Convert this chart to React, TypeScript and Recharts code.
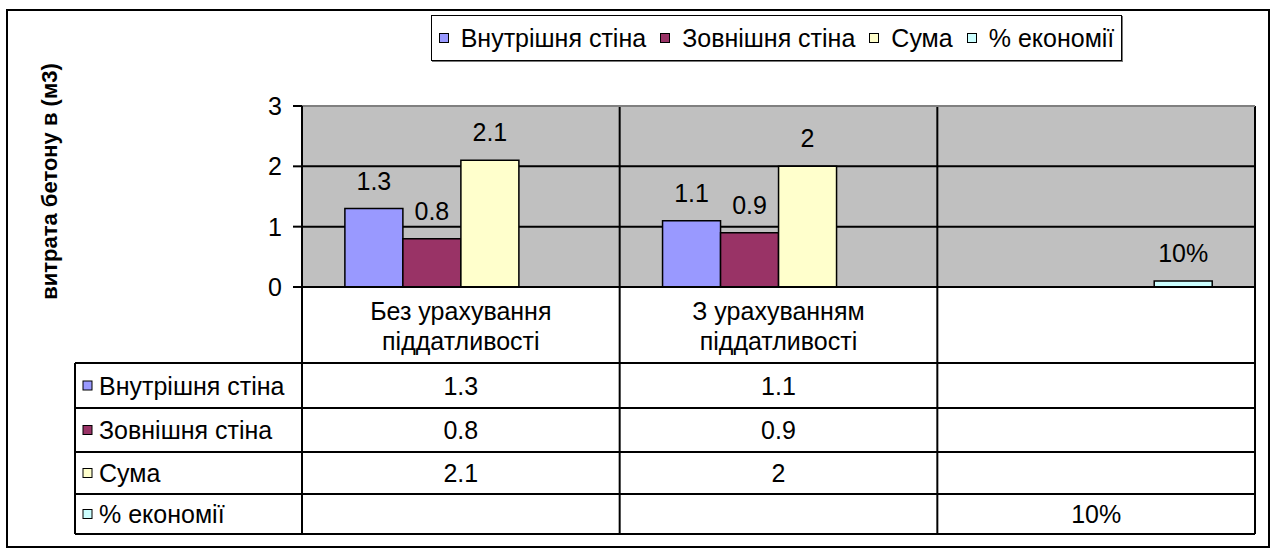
import React from "react";
import {
  BarChart,
  Bar,
  XAxis,
  YAxis,
  CartesianGrid,
  LabelList,
  Legend,
  ReferenceLine,
} from "recharts";

// categories (the third one has no name, only the % bar)
const categoryLines: string[][] = [
  ["Без урахування", "піддатливості"],
  ["З урахуванням", "піддатливості"],
  [],
];
const seriesNames = ["Внутрішня стіна", "Зовнішня стіна", "Сума", "% економії"];
const innerWall = [1.3, 1.1, null];
const outerWall = [0.8, 0.9, null];
const total = [2.1, 2, null];
const savings = [null, null, 0.1];
const yTicks = [0, 1, 2, 3];

const seriesKeys = ["inner", "outer", "total", "savings"];
const seriesValues = [innerWall, outerWall, total, savings];
const colors = ["#9999FF", "#993366", "#FFFFCC", "#CCFFFF"];

const data = categoryLines.map((_, i) => {
  const row: Record<string, any> = { cat: String(i) };
  seriesKeys.forEach((k, s) => (row[k] = seriesValues[s][i]));
  return row;
});

const fmt = (key: string, v: any) => {
  if (v === null || v === undefined || v === "") return "";
  if (key === "savings") return `${Math.round(Number(v) * 100)}%`;
  return String(v);
};

const FONT = "'Liberation Sans', Arial, sans-serif";
const FS = 25;

const W = 1274;
const H = 549;
const plotLeft = 302;
const plotRight = 1255;
const plotTop = 106;
const plotBottom = 287;
const headerH = 76;
const rowHeights = [45, 44, 42, 40];
const tableLeft = 75;

function CategoryTick(props: any) {
  const { x, y, payload } = props;
  const lines = categoryLines[Number(payload.value)] || [];
  return (
    <g>
      {lines.map((l, i) => (
        <text
          key={i}
          x={x}
          y={y + 33 + i * 30}
          textAnchor="middle"
          fontSize={FS}
          fontFamily={FONT}
          fill="#000"
        >
          {l}
        </text>
      ))}
    </g>
  );
}

function LegendBox() {
  return (
    <div
      style={{
        boxSizing: "border-box",
        width: 691,
        height: 46,
        border: "1.5px solid #000",
        boxShadow: "1px 1px 0 #777",
        background: "#fff",
        display: "flex",
        alignItems: "center",
        justifyContent: "center",
        fontFamily: FONT,
        fontSize: FS,
        whiteSpace: "nowrap",
      }}
    >
      {seriesNames.map((n, i) => (
        <span key={n} style={{ display: "flex", alignItems: "center", marginRight: i < 3 ? 14 : 0 }}>
          <span
            style={{
              display: "inline-block",
              width: 8,
              height: 8,
              border: "1px solid #000",
              background: colors[i],
              marginRight: 12,
            }}
          />
          {n}
        </span>
      ))}
    </div>
  );
}

function DataTable() {
  const colW = (plotRight - plotLeft) / categoryLines.length;
  const colEdges = [0, 1, 2, 3].map((i) => plotLeft + i * colW);
  const rowTops: number[] = [plotBottom + headerH];
  rowHeights.forEach((h, i) => rowTops.push(rowTops[i] + h));
  const tableBottom = rowTops[rowTops.length - 1];
  return (
    <svg
      width={W}
      height={H}
      style={{ position: "absolute", left: 0, top: 0, pointerEvents: "none" }}
    >
      <rect x={7} y={10} width={1262} height={537} fill="none" stroke="#000" strokeWidth={2} />
      {colEdges.map((x, i) => (
        <line key={"v" + i} x1={x} x2={x} y1={plotBottom} y2={tableBottom} stroke="#000" strokeWidth={2} />
      ))}
      <line x1={tableLeft} x2={tableLeft} y1={rowTops[0]} y2={tableBottom} stroke="#000" strokeWidth={2} />
      {rowTops.map((y, i) => (
        <line key={"h" + i} x1={tableLeft} x2={plotRight} y1={y} y2={y} stroke="#000" strokeWidth={2} />
      ))}
      {seriesNames.map((n, s) => {
        const cy = rowTops[s] + rowHeights[s] / 2;
        return (
          <g key={n} fontFamily={FONT} fontSize={FS} fill="#000">
            <rect x={tableLeft + 8} y={cy - 4.5} width={9} height={9} fill={colors[s]} stroke="#000" />
            <text x={tableLeft + 24} y={cy + 9}>
              {n}
            </text>
            {seriesValues[s].map((v, c) => (
              <text key={c} x={colEdges[c] + colW / 2} y={cy + 9} textAnchor="middle">
                {fmt(seriesKeys[s], v)}
              </text>
            ))}
          </g>
        );
      })}
    </svg>
  );
}

export default function App() {
  return (
    <div style={{ position: "absolute", left: 0, top: 0, width: W, height: H, background: "#fff" }}>
      <BarChart
        width={W}
        height={H}
        data={data}
        margin={{ top: plotTop, right: W - plotRight, bottom: H - plotBottom - headerH, left: 6 }}
        barCategoryGap="13.5%"
        barGap={0}
      >
        <CartesianGrid
          fill="#C0C0C0"
          fillOpacity={1}
          stroke="#000"
          strokeWidth={2}
          verticalCoordinatesGenerator={({ offset }: any) =>
            categoryLines.map((_, i) => offset.left + (offset.width * (i + 1)) / categoryLines.length)
          }
        />
        <ReferenceLine y={3} stroke="#808080" strokeWidth={2} />
        <XAxis
          dataKey="cat"
          axisLine={{ stroke: "#000", strokeWidth: 2 }}
          tickLine={false}
          tickSize={0}
          tickMargin={0}
          height={headerH}
          interval={0}
          tick={<CategoryTick />}
        />
        <YAxis
          domain={[0, 3]}
          ticks={yTicks}
          width={plotLeft - 6}
          axisLine={{ stroke: "#000", strokeWidth: 2 }}
          tickLine={{ stroke: "#000", strokeWidth: 2 }}
          tickSize={9}
          tickMargin={11}
          tick={{ fontSize: FS, fontFamily: FONT, fill: "#000" }}
          label={{
            content: (p: any) => {
              const vb = p.viewBox;
              const x = vb.x + 51;
              const y = vb.y + vb.height / 2 - 15;
              return (
                <text
                  x={x}
                  y={y}
                  transform={`rotate(-90, ${x}, ${y})`}
                  textAnchor="middle"
                  fontSize={22}
                  fontWeight="bold"
                  fontFamily={FONT}
                  fill="#000"
                >
                  витрата бетону в (м3)
                </text>
              );
            },
          }}
        />
        <Legend
          layout="horizontal"
          verticalAlign="middle"
          align="center"
          wrapperStyle={{ top: 15, left: 431, width: 691, height: 46 }}
          content={() => <LegendBox />}
        />
        {seriesKeys.map((k, s) => (
          <Bar
            key={k}
            dataKey={k}
            name={seriesNames[s]}
            fill={colors[s]}
            stroke="#000"
            strokeWidth={1.5}
            isAnimationActive={false}
          >
            <LabelList
              dataKey={k}
              position="top"
              offset={19}
              fill="#000"
              fontSize={FS}
              fontFamily={FONT}
              formatter={(v: any) => fmt(k, v)}
            />
          </Bar>
        ))}
      </BarChart>
      <DataTable />
    </div>
  );
}
